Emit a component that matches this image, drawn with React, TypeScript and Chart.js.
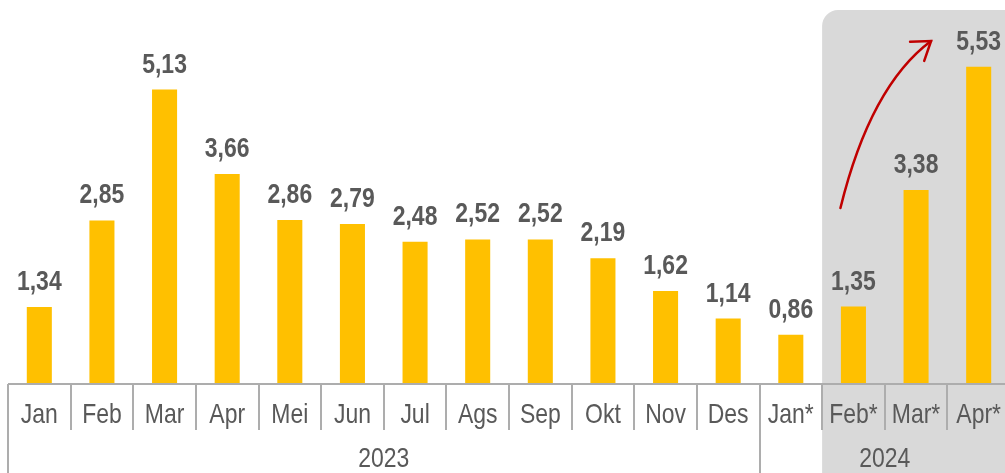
import React, { useEffect, useRef } from "react";
import { Chart, registerables } from "chart.js";

Chart.register(...registerables);

const months = ["Jan", "Feb", "Mar", "Apr", "Mei", "Jun", "Jul", "Ags", "Sep", "Okt", "Nov", "Des", "Jan*", "Feb*", "Mar*", "Apr*"];
const values = [1.34, 2.85, 5.13, 3.66, 2.86, 2.79, 2.48, 2.52, 2.52, 2.19, 1.62, 1.14, 0.86, 1.35, 3.38, 5.53];
const yearLabels = ["2023", "2024"];
const yearStarts = [0, 12];
const yearEnds = [12, 16];
const highlightStart = 13;
const highlightEnd = 16;

const FONT = "'Liberation Sans', Arial, sans-serif";
const NARROW = 0.82;

function narrowText(ctx: CanvasRenderingContext2D, txt: string, x: number, y: number) {
  ctx.save();
  ctx.translate(x, y);
  ctx.scale(NARROW, 1);
  ctx.fillText(txt, 0, 0);
  ctx.restore();
}

const overlay = {
  id: "overlay",
  beforeDatasetsDraw(chart: any) {
    const { ctx } = chart;
    const x = chart.scales.x;
    const half = (x.getPixelForValue(1) - x.getPixelForValue(0)) / 2;
    const left = x.getPixelForValue(highlightStart) - half;
    const right = x.getPixelForValue(highlightEnd - 1) + half + 20;
    const top = 10;
    const bottom = chart.height + 20;
    const r = 16;
    ctx.save();
    ctx.fillStyle = "#D9D9D9";
    ctx.beginPath();
    ctx.moveTo(left, bottom);
    ctx.lineTo(left, top + r);
    ctx.arcTo(left, top, left + r, top, r);
    ctx.lineTo(right - r, top);
    ctx.arcTo(right, top, right, top + r, r);
    ctx.lineTo(right, bottom);
    ctx.closePath();
    ctx.fill();
    ctx.restore();
  },
  afterDatasetsDraw(chart: any) {
    const { ctx, chartArea } = chart;
    const x = chart.scales.x;
    const meta = chart.getDatasetMeta(0);
    const half = (x.getPixelForValue(1) - x.getPixelForValue(0)) / 2;
    const base = chartArea.bottom;
    ctx.save();
    // data labels
    ctx.fillStyle = "#595959";
    ctx.textAlign = "center";
    ctx.textBaseline = "alphabetic";
    ctx.font = `bold 28px ${FONT}`;
    meta.data.forEach((bar: any, i: number) => {
      const txt = values[i].toFixed(2).replace(".", ",");
      narrowText(ctx, txt, bar.x, bar.y - 17);
    });
    // axis line
    ctx.strokeStyle = "#ADADAD";
    ctx.lineWidth = 2;
    ctx.beginPath();
    ctx.moveTo(chartArea.left, base);
    ctx.lineTo(chartArea.right, base);
    ctx.stroke();
    // separators
    for (let i = 0; i <= months.length; i++) {
      const px = Math.round(x.getPixelForValue(i) - half);
      const long = yearStarts.includes(i) || yearEnds.includes(i);
      ctx.beginPath();
      ctx.moveTo(px, base);
      ctx.lineTo(px, long ? chart.height : base + 46);
      ctx.stroke();
    }
    // month labels
    ctx.font = `28px ${FONT}`;
    months.forEach((m, i) => {
      narrowText(ctx, m, x.getPixelForValue(i), base + 39);
    });
    // year labels
    yearLabels.forEach((y, k) => {
      const l = x.getPixelForValue(yearStarts[k]) - half;
      const r = x.getPixelForValue(yearEnds[k] - 1) + half;
      narrowText(ctx, y, (l + r) / 2, base + 83);
    });
    // arrow
    const sx = x.getPixelForValue(highlightStart) - 13;
    const ex = x.getPixelForValue(highlightStart + 1) + 15;
    const sy = 208;
    const ey = 41;
    const cx = sx + 30;
    const cy = 86;
    ctx.strokeStyle = "#C00000";
    ctx.lineWidth = 2.5;
    ctx.lineCap = "round";
    ctx.beginPath();
    ctx.moveTo(sx, sy);
    ctx.quadraticCurveTo(cx, cy, ex, ey);
    ctx.stroke();
    const ang = Math.atan2(ey - cy, ex - cx);
    const len = 21;
    ctx.beginPath();
    ctx.moveTo(ex + len * Math.cos(ang + Math.PI - 0.6), ey + len * Math.sin(ang + Math.PI - 0.6));
    ctx.lineTo(ex, ey);
    ctx.lineTo(ex + len * Math.cos(ang + Math.PI + 0.6), ey + len * Math.sin(ang + Math.PI + 0.6));
    ctx.stroke();
    ctx.restore();
  },
};

export default function App() {
  const ref = useRef<HTMLCanvasElement>(null);
  useEffect(() => {
    if (!ref.current) return;
    const chart = new Chart(ref.current, {
      type: "bar",
      data: {
        labels: months,
        datasets: [
          {
            data: values,
            backgroundColor: "#FFC000",
            barPercentage: 0.4,
            categoryPercentage: 1,
          },
        ],
      },
      options: {
        responsive: false,
        animation: false,
        devicePixelRatio: 1,
        layout: { padding: { left: 8, right: 0, top: 11, bottom: 89 } },
        plugins: { legend: { display: false }, tooltip: { enabled: false } },
        scales: {
          x: { display: false },
          y: { display: false, min: 0, max: 6.5 },
        },
      },
      plugins: [overlay],
    } as any);
    return () => chart.destroy();
  }, []);
  return (
    <div style={{ position: "absolute", left: 0, top: 0, width: 1005, height: 473, overflow: "hidden", background: "#fff" }}>
      <canvas ref={ref} width={1010} height={473} style={{ display: "block" }} />
    </div>
  );
}
